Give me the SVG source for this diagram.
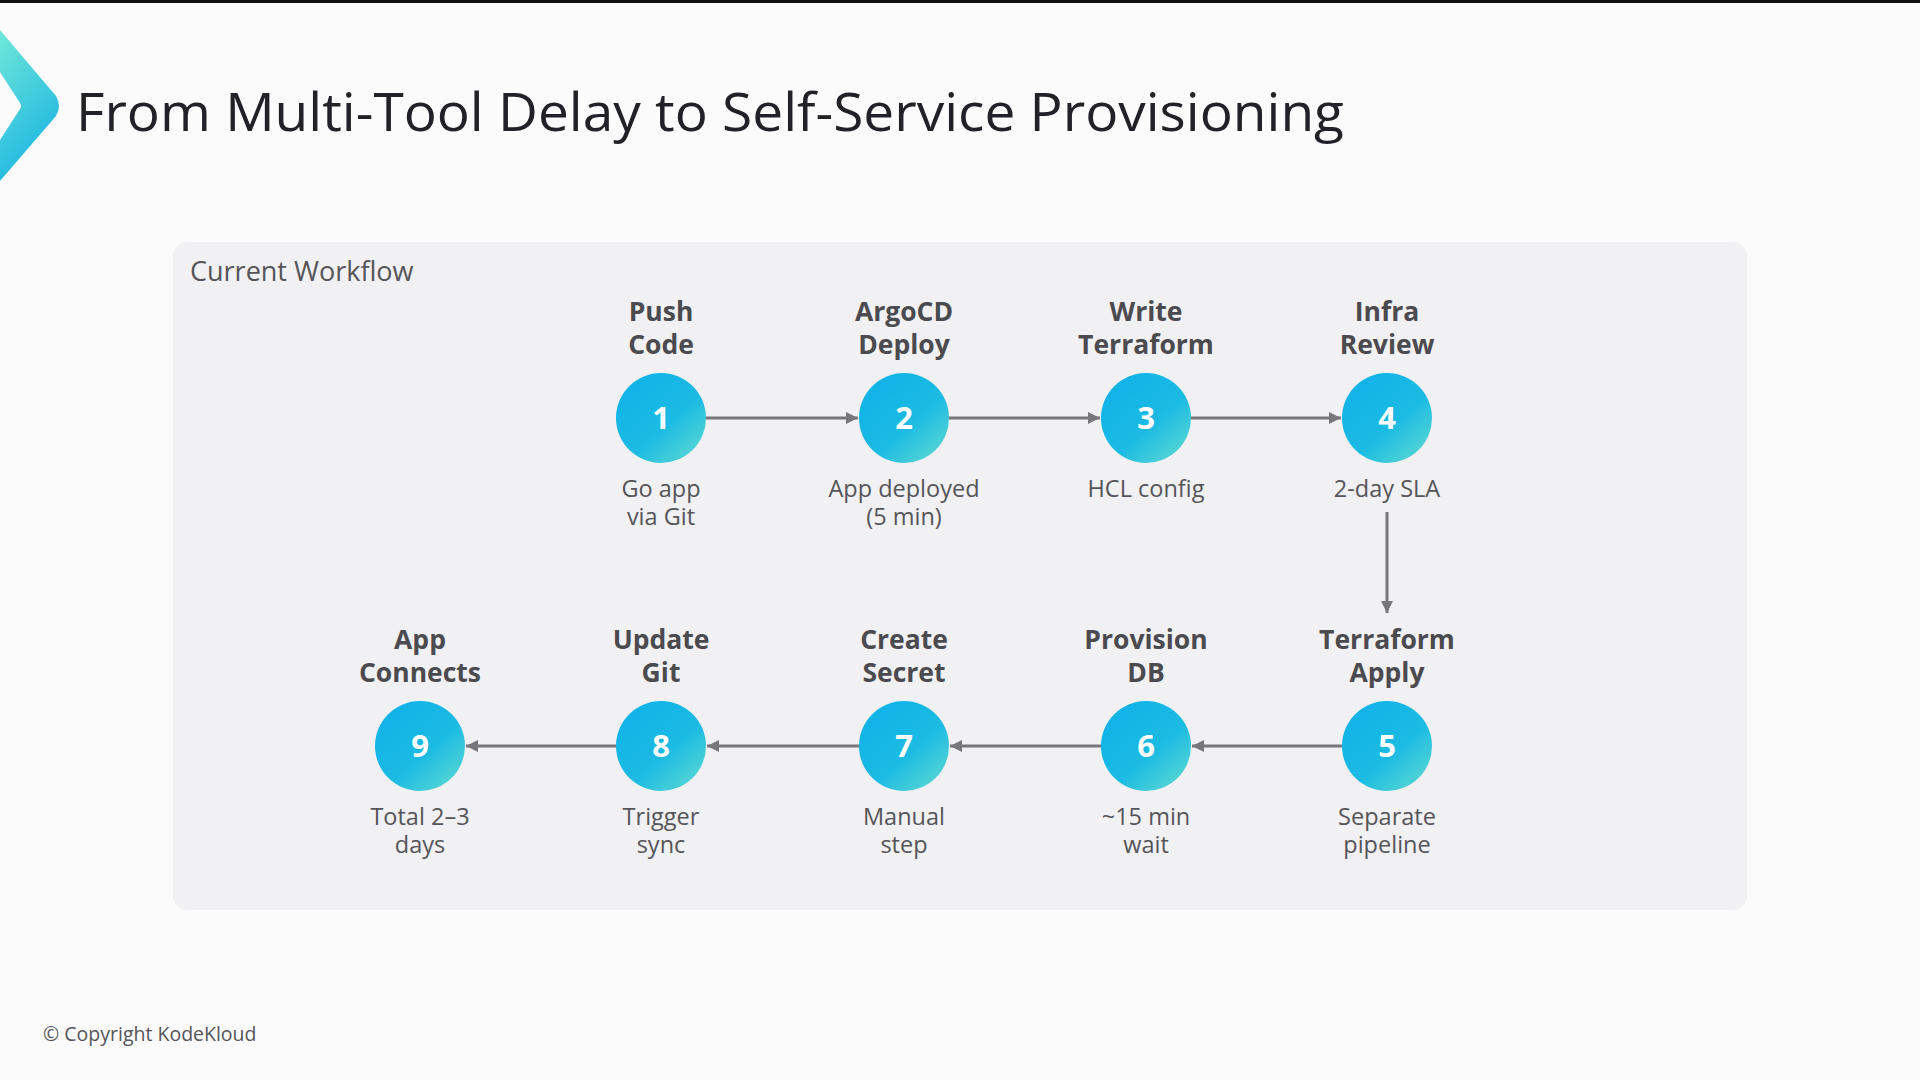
<svg xmlns="http://www.w3.org/2000/svg" width="1920" height="1080" viewBox="0 0 1920 1080">
<style>
.ttl{font-family:"Open Sans","Noto Sans",sans-serif;font-size:53px;fill:#222226}
.sec{font-family:"Open Sans","Noto Sans",sans-serif;font-size:27px;fill:#555559}
.nt{font-family:"Open Sans","Noto Sans",sans-serif;font-size:26.5px;font-weight:700;fill:#4a4a4f;text-anchor:middle}
.num{font-family:"Open Sans","Noto Sans",sans-serif;font-size:31px;font-weight:700;fill:#ffffff;text-anchor:middle}
.sub{font-family:"Open Sans","Noto Sans",sans-serif;font-size:23.5px;fill:#555559;text-anchor:middle}
.cp{font-family:"Open Sans","Noto Sans",sans-serif;font-size:19.5px;fill:#555559}
.cn{stroke:#77777b;stroke-width:3;fill:none;marker-end:url(#ah)}
</style>
<defs>
<linearGradient id="cg" x1="0.2" y1="0.15" x2="0.95" y2="1">
<stop offset="0" stop-color="#12b3e7"/>
<stop offset="0.5" stop-color="#1cbbe3"/>
<stop offset="1" stop-color="#62dcd0"/>
</linearGradient>
<linearGradient id="lg" x1="0" y1="0" x2="0.4" y2="1">
<stop offset="0" stop-color="#6fe8d8"/>
<stop offset="1" stop-color="#1fb6e2"/>
</linearGradient>
<marker id="ah" viewBox="0 0 10 10" refX="10" refY="5" markerWidth="4" markerHeight="4" orient="auto">
<path d="M0,0 L10,5 L0,10 z" fill="#77777b"/>
</marker>
</defs>
<rect x="0" y="0" width="1920" height="1080" fill="#fcfbfc"/>
<rect x="0" y="0" width="1920" height="3" fill="#111111"/>
<path d="M0,30 L56,96 Q62,106 56,116 L0,181 L0,140 L20,109 Q22,106 20,103 L0,72 Z" fill="url(#lg)"/>
<text class="ttl" x="76" y="131" textLength="1268" lengthAdjust="spacingAndGlyphs">From Multi-Tool Delay to Self-Service Provisioning</text>
<rect x="173" y="242" width="1574" height="668" rx="14" fill="#f1f0f3"/>
<text class="sec" x="190" y="281">Current Workflow</text>
<g id="connectors">
<line class="cn" x1="706" y1="418" x2="858" y2="418"/>
<line class="cn" x1="949" y1="418" x2="1100" y2="418"/>
<line class="cn" x1="1191" y1="418" x2="1341" y2="418"/>
<line class="cn" x1="1387" y1="512" x2="1387" y2="613"/>
<line class="cn" x1="1342" y1="746" x2="1192" y2="746"/>
<line class="cn" x1="1101" y1="746" x2="950" y2="746"/>
<line class="cn" x1="859" y1="746" x2="707" y2="746"/>
<line class="cn" x1="616" y1="746" x2="466" y2="746"/>
</g>
<g id="node1">
<text class="nt" x="661" y="321">Push<tspan x="661" dy="33">Code</tspan></text>
<circle cx="661" cy="418" r="45" fill="url(#cg)"/><text class="num" x="661" y="429">1</text>
<text class="sub" x="661" y="497">Go app<tspan x="661" dy="28">via Git</tspan></text>
</g>
<g id="node2">
<text class="nt" x="904" y="321">ArgoCD<tspan x="904" dy="33">Deploy</tspan></text>
<circle cx="904" cy="418" r="45" fill="url(#cg)"/><text class="num" x="904" y="429">2</text>
<text class="sub" x="904" y="497">App deployed<tspan x="904" dy="28">(5 min)</tspan></text>
</g>
<g id="node3">
<text class="nt" x="1146" y="321">Write<tspan x="1146" dy="33">Terraform</tspan></text>
<circle cx="1146" cy="418" r="45" fill="url(#cg)"/><text class="num" x="1146" y="429">3</text>
<text class="sub" x="1146" y="497">HCL config</text>
</g>
<g id="node4">
<text class="nt" x="1387" y="321">Infra<tspan x="1387" dy="33">Review</tspan></text>
<circle cx="1387" cy="418" r="45" fill="url(#cg)"/><text class="num" x="1387" y="429">4</text>
<text class="sub" x="1387" y="497">2-day SLA</text>
</g>
<g id="node5">
<text class="nt" x="1387" y="649">Terraform<tspan x="1387" dy="33">Apply</tspan></text>
<circle cx="1387" cy="746" r="45" fill="url(#cg)"/><text class="num" x="1387" y="757">5</text>
<text class="sub" x="1387" y="825">Separate<tspan x="1387" dy="28">pipeline</tspan></text>
</g>
<g id="node6">
<text class="nt" x="1146" y="649">Provision<tspan x="1146" dy="33">DB</tspan></text>
<circle cx="1146" cy="746" r="45" fill="url(#cg)"/><text class="num" x="1146" y="757">6</text>
<text class="sub" x="1146" y="825">~15 min<tspan x="1146" dy="28">wait</tspan></text>
</g>
<g id="node7">
<text class="nt" x="904" y="649">Create<tspan x="904" dy="33">Secret</tspan></text>
<circle cx="904" cy="746" r="45" fill="url(#cg)"/><text class="num" x="904" y="757">7</text>
<text class="sub" x="904" y="825">Manual<tspan x="904" dy="28">step</tspan></text>
</g>
<g id="node8">
<text class="nt" x="661" y="649">Update<tspan x="661" dy="33">Git</tspan></text>
<circle cx="661" cy="746" r="45" fill="url(#cg)"/><text class="num" x="661" y="757">8</text>
<text class="sub" x="661" y="825">Trigger<tspan x="661" dy="28">sync</tspan></text>
</g>
<g id="node9">
<text class="nt" x="420" y="649">App<tspan x="420" dy="33">Connects</tspan></text>
<circle cx="420" cy="746" r="45" fill="url(#cg)"/><text class="num" x="420" y="757">9</text>
<text class="sub" x="420" y="825">Total 2–3<tspan x="420" dy="28">days</tspan></text>
</g>
<text class="cp" x="43" y="1041">© Copyright KodeKloud</text>
</svg>
